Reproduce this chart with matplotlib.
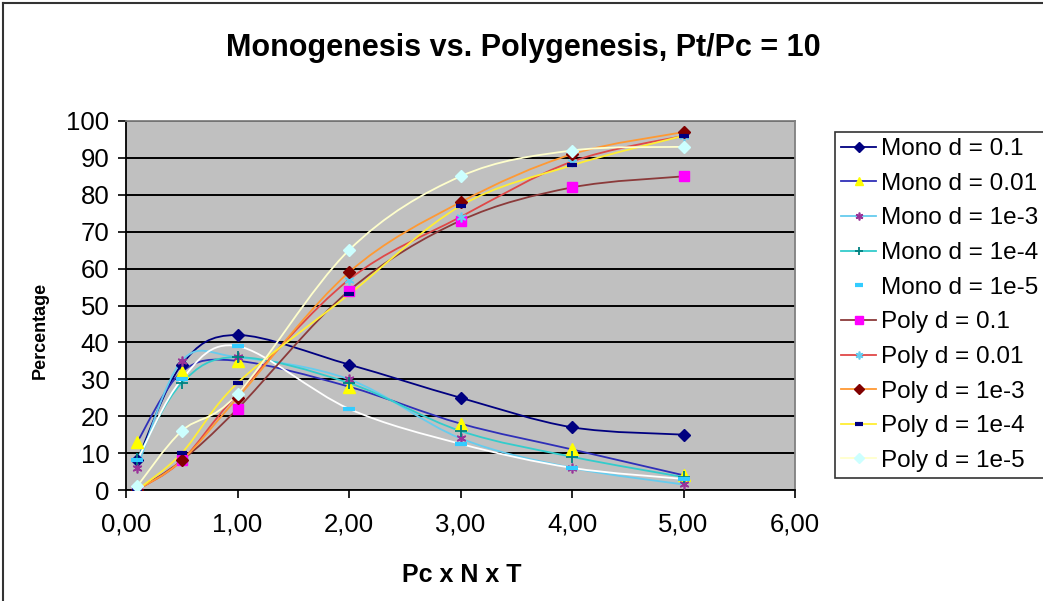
"""Monogenesis vs. Polygenesis chart (Excel style, smoothed lines)"""

import numpy as np
import matplotlib
matplotlib.use("Agg")
import matplotlib.pyplot as plt
from matplotlib.path import Path
from matplotlib.patches import PathPatch
from matplotlib.lines import Line2D

plt.rcParams["font.family"] = ["Liberation Sans", "DejaVu Sans"]

# data
x_vals = [0.1, 0.5, 1.0, 2.0, 3.0, 4.0, 5.0]

mono_d01 = [8, 34, 42, 34, 25, 17, 15]
mono_d001 = [13, 32, 35, 28, 18, 11, 4]
mono_d1e3 = [6, 35, 36, 30, 14, 6, 1.5]
mono_d1e4 = [8.5, 29, 36, 29, 16, 9, 3.5]
mono_d1e5 = [8, 30, 39, 22, 12.5, 6, 3]
poly_d01 = [0, 8, 22, 54, 73, 82, 85]
poly_d001 = [0, 8, 26, 57, 74, 89, 96]
poly_d1e3 = [0, 8, 25, 59, 78, 91, 97]
poly_d1e4 = [0, 10, 29, 53, 77, 88, 96]
poly_d1e5 = [1, 16, 26, 65, 85, 92, 93]

labels = [
    "Mono d = 0.1", "Mono d = 0.01", "Mono d = 1e-3", "Mono d = 1e-4", "Mono d = 1e-5",
    "Poly d = 0.1", "Poly d = 0.01", "Poly d = 1e-3", "Poly d = 1e-4", "Poly d = 1e-5",
]
series = [mono_d01, mono_d001, mono_d1e3, mono_d1e4, mono_d1e5,
          poly_d01, poly_d001, poly_d1e3, poly_d1e4, poly_d1e5]

x_ticks = [0, 1, 2, 3, 4, 5, 6]
x_ticklabels = ["0,00", "1,00", "2,00", "3,00", "4,00", "5,00", "6,00"]
y_ticks = list(range(0, 101, 10))

# style per series: line colour, marker, marker colour, marker size, marker edge width
asterisk = (6, 2, 0)
styles = [
    ("#000080", "D", "#000080", 6, 1),
    ("#2F2FB8", "^", "#FFFF00", 8, 1),
    ("#66CCEE", asterisk, "#993399", 7, 1.2),
    ("#33CCCC", "+", "#008080", 8, 1.3),
    ("#FFFFFF", "_", "#33CCFF", 8, 3),
    ("#8B3A3A", "s", "#FF00FF", 7, 1),
    ("#E04848", asterisk, "#66CCEE", 7, 1.2),
    ("#FF9933", "D", "#800000", 6, 1),
    ("#FFEE33", "_", "#000080", 7, 3),
    ("#FFFFCC", "D", "#CCFFFF", 6, 1),
]


def smooth_path(xs, ys):
    """Bezier path through the points, like Excel's smoothed line"""
    pts = np.column_stack([xs, ys]).astype(float)
    n = len(pts)
    verts = [pts[0]]
    codes = [Path.MOVETO]
    for i in range(n - 1):
        p0 = pts[i - 1] if i > 0 else pts[i]
        p1 = pts[i]
        p2 = pts[i + 1]
        p3 = pts[i + 2] if i + 2 < n else pts[i + 1]
        c1 = p1 + (p2 - p0) / 6.0
        c2 = p2 - (p3 - p1) / 6.0
        verts += [c1, c2, p2]
        codes += [Path.CURVE4] * 3
    return Path(verts, codes)


fig = plt.figure(figsize=(10.43, 6.01), dpi=100)
fig.patch.set_facecolor("white")
ax = fig.add_axes([126 / 1043, 1 - 490 / 601, (795 - 126) / 1043, (490 - 121) / 601])
ax.set_facecolor("#C0C0C0")

for ys, (lc, mk, mc, ms, mew) in zip(series, styles):
    patch = PathPatch(smooth_path(x_vals, ys), facecolor="none", edgecolor=lc,
                      linewidth=1.3, zorder=2)
    ax.add_patch(patch)
    ax.plot(x_vals, ys, linestyle="none", marker=mk, markersize=ms,
            markerfacecolor=mc, markeredgecolor=mc, markeredgewidth=mew, zorder=3)

ax.set_xlim(0, 6)
ax.set_ylim(0, 100)
ax.set_xticks(x_ticks)
ax.set_xticklabels(x_ticklabels)
ax.set_yticks(y_ticks)
ax.tick_params(axis="both", direction="out", length=6, width=1.2, labelsize=18.5, colors="black")
ax.tick_params(axis="x", pad=10)
ax.tick_params(axis="y", pad=6)
ax.yaxis.grid(True, color="black", linewidth=1.4)
ax.set_axisbelow(True)
for side in ["left", "bottom"]:
    ax.spines[side].set_color("black")
    ax.spines[side].set_linewidth(1.3)
for side in ["top", "right"]:
    ax.spines[side].set_color("#808080")
    ax.spines[side].set_linewidth(1.3)

fig.text(523 / 1043, 1 - 48 / 601, "Monogenesis vs. Polygenesis, Pt/Pc = 10",
         ha="center", va="center", fontsize=22, fontweight="bold")
fig.text(462 / 1043, 1 - 575 / 601, "Pc x N x T", ha="center", va="center",
         fontsize=18, fontweight="bold")
fig.text(40 / 1043, 1 - 330 / 601, "Percentage", ha="center", va="center",
         rotation=90, fontsize=13, fontweight="bold")

# legend
handles = [
    Line2D([], [], color=lc, linewidth=1.3, marker=mk, markersize=ms * 0.8,
           markerfacecolor=mc, markeredgecolor=mc, markeredgewidth=mew)
    for (lc, mk, mc, ms, mew) in styles
]
leg = fig.legend(handles, labels, loc="upper left",
                 bbox_to_anchor=(835 / 1043, 1 - 132 / 601),
                 bbox_transform=fig.transFigure, frameon=True, fancybox=False,
                 edgecolor="black", fontsize=17.5, labelspacing=0.52,
                 handlelength=1.45, handletextpad=0.2, borderpad=0.25,
                 borderaxespad=0)
leg.get_frame().set_linewidth(1.2)

# chart area border (cropped at right and bottom)
fig.add_artist(Line2D([3 / 1043, 1], [1 - 3 / 601, 1 - 3 / 601], color="#333333",
                      linewidth=1.5, transform=fig.transFigure))
fig.add_artist(Line2D([3 / 1043, 3 / 1043], [0, 1 - 3 / 601], color="#333333",
                      linewidth=1.5, transform=fig.transFigure))

plt.savefig("out.png", dpi=100)
